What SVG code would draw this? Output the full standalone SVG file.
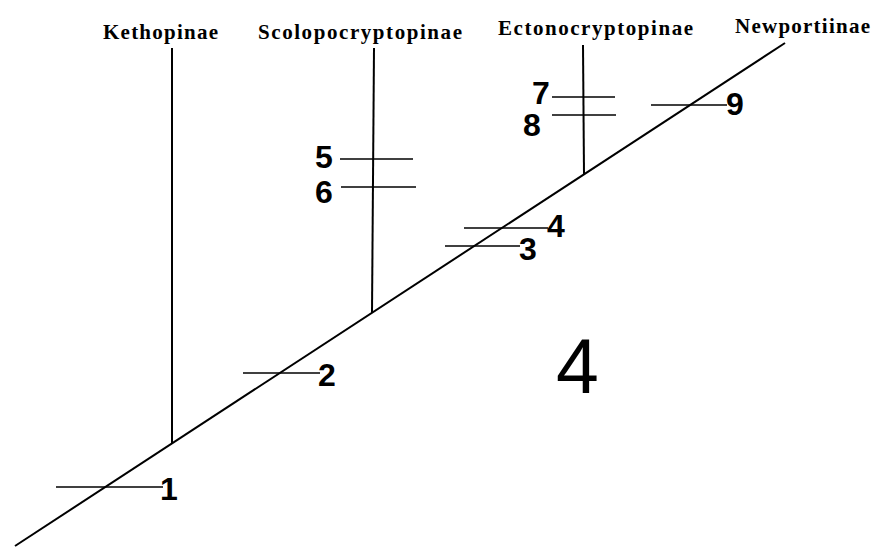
<svg xmlns="http://www.w3.org/2000/svg" width="886" height="549" viewBox="0 0 886 549">
<style>
.ln{stroke:#000;stroke-width:2;fill:none;stroke-linecap:butt}
.tk{stroke:#000;stroke-width:1.6;fill:none}
.tx{font-family:"Liberation Serif",serif;font-weight:bold;font-size:21px;fill:#000}
.num{font-family:"Liberation Sans",Arial,sans-serif;font-weight:bold;font-size:32px;fill:#000}
.big{font-family:"Liberation Sans",Arial,sans-serif;font-size:77px;fill:#000}
</style>
<rect width="886" height="549" fill="#fff"/>
<g id="connectors">
<line class="ln" x1="15" y1="546" x2="785" y2="43"/>
<line class="ln" x1="172" y1="48" x2="172" y2="444"/>
<line class="ln" x1="374" y1="48" x2="372" y2="313"/>
<line class="ln" x1="583" y1="45" x2="584" y2="175"/>
</g>
<g id="taxon-kethopinae"><text class="tx" x="103" y="39" textLength="115">Kethopinae</text></g>
<g id="taxon-scolopocryptopinae"><text class="tx" x="258" y="39" textLength="204">Scolopocryptopinae</text></g>
<g id="taxon-ectonocryptopinae"><text class="tx" x="498" y="35" textLength="195">Ectonocryptopinae</text></g>
<g id="taxon-newportiinae"><text class="tx" x="735" y="33" textLength="135">Newportiinae</text></g>
<g id="char-1"><line class="tk" x1="56" y1="487" x2="163" y2="487"/><text class="num" x="160" y="500">1</text></g>
<g id="char-2"><line class="tk" x1="243" y1="373" x2="320" y2="373"/><text class="num" x="318" y="386">2</text></g>
<g id="char-3"><line class="tk" x1="445" y1="246" x2="520" y2="246"/><text class="num" x="519" y="260">3</text></g>
<g id="char-4"><line class="tk" x1="464" y1="228" x2="548" y2="228"/><text class="num" x="547" y="237">4</text></g>
<g id="char-5"><line class="tk" x1="340" y1="159" x2="413" y2="159"/><text class="num" x="315" y="168">5</text></g>
<g id="char-6"><line class="tk" x1="341" y1="187" x2="416" y2="187"/><text class="num" x="315" y="203">6</text></g>
<g id="char-7"><line class="tk" x1="552" y1="97" x2="615" y2="97"/><text class="num" x="532" y="104">7</text></g>
<g id="char-8"><line class="tk" x1="552" y1="115" x2="616" y2="115"/><text class="num" x="523" y="136">8</text></g>
<g id="char-9"><line class="tk" x1="651" y1="105" x2="727" y2="105"/><text class="num" x="726" y="115">9</text></g>
<g id="figure-number"><text class="big" x="556" y="393">4</text></g>
</svg>
